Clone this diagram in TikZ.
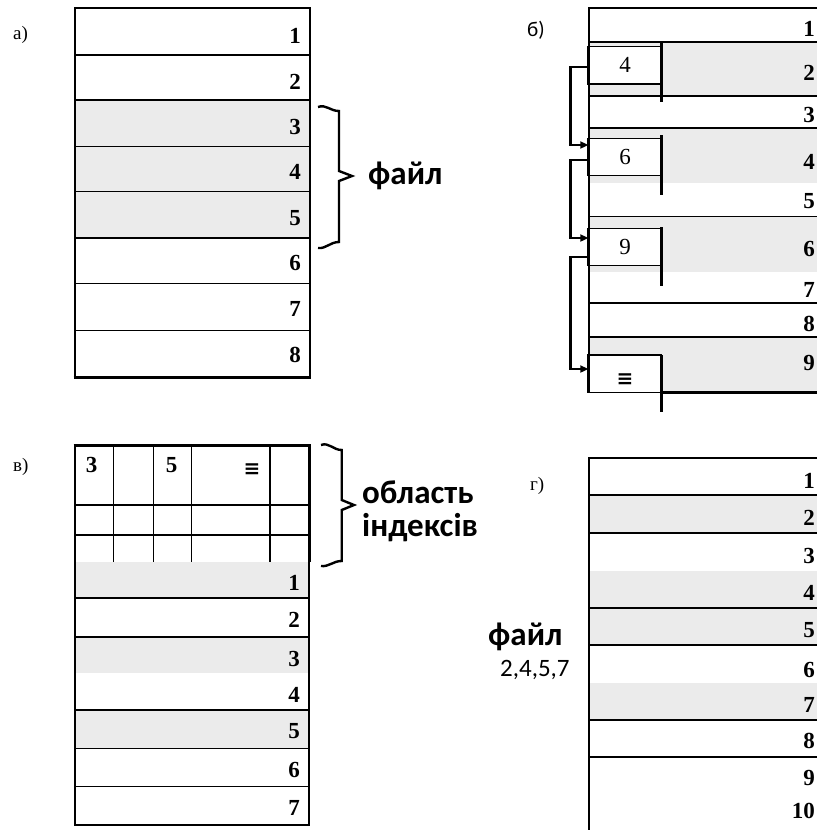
\documentclass[tikz,border=0pt]{standalone}
\usepackage{fontspec}
\setmainfont{Liberation Serif}
\newfontfamily\calib{Carlito}
\newfontfamily\dejavu{DejaVu Sans}
\usetikzlibrary{arrows.meta}
\definecolor{shadegray}{HTML}{EBEBEB}
\tikzset{
  thinl/.style={line width=1.4pt},
  thickl/.style={line width=3pt},
  shaded/.style={fill=shadegray},
  num/.style={anchor=east, inner sep=0pt, font=\fontsize{23}{23}\selectfont\bfseries},
  cellnum/.style={inner sep=0pt, font=\fontsize{23}{23}\selectfont\bfseries},
  eqsign/.style={inner sep=0pt, font=\dejavu\bfseries\fontsize{20}{20}\selectfont},
  panel/.style={anchor=west, inner sep=0pt, font=\fontsize{19}{19}\selectfont},
  caption/.style={anchor=west, inner sep=0pt, font=\calib\bfseries\fontsize{33}{33}\selectfont},
  smallbox/.style={draw, fill=white, line width=1.4pt, minimum width=72pt, minimum height=37.5pt, inner sep=0pt, font=\fontsize{23}{23}\selectfont},
  conn/.style={line width=2.6pt, -{Triangle[length=8pt,width=7pt]}},
  bracel/.style={line width=2.4pt, line join=miter},
}
\begin{document}
\begin{tikzpicture}[x=1pt,y=-1pt]
\useasboundingbox (0,0) rectangle (817,830);

% ---------- panel a ----------
\node[panel] (la) at (13,35) {а)};
\fill[shaded] (75,100) rectangle (310,238);
\foreach \y in {55,100,146.5,191.7,238,283.5,330.5} \draw[thinl] (75,\y) -- (310,\y);
\draw[thinl] (75,377) -- (75,8) -- (310,8) -- (310,377);
\draw[thickl] (73.6,377) -- (311.4,377);
\foreach \n/\y in {1/36,2/82,3/127,4/172,5/218,6/263,7/309,8/355}
  \node[num] (a\n) at (301,\y) {\n};
\draw[bracel] (318,107) .. controls (326,104) and (330,111) .. (339,111) -- (339,171) -- (352,176) -- (339,181) -- (339,242) .. controls (330,242) and (326,249) .. (318,248);
\node[caption] (fa) at (368,176) {файл};

% ---------- panel b ----------
\node[panel, font=\calib\fontsize{21}{21}\selectfont] (lb) at (527,30) {б)};
\fill[shaded] (589,42) rectangle (817,96);
\fill[shaded] (589,128) rectangle (817,183);
\fill[shaded] (589,216.5) rectangle (817,271.5);
\fill[shaded] (589,337) rectangle (817,392.5);
\foreach \y in {42,96,128,216.5,303,337} \draw[thinl] (589,\y) -- (817,\y);
\draw[thinl] (817,8) -- (589,8) -- (589,392.5) -- (661,392.5);
\draw[thickl] (661,392.5) -- (817,392.5);
\foreach \n/\y in {1/29,2/72.5,3/115,4/161.5,5/201.5,6/248.5,7/290,8/324,9/362.5}
  \node[num] (bn\n) at (815,\y) {\n};
\node[smallbox] (b4) at (625,65.25) {4};
\node[smallbox] (b6) at (625,157) {6};
\node[smallbox] (b9) at (625,247) {9};
\node[smallbox] (be) at (625,373.75) {};
\node[eqsign] (eqb) at (625,380) {≡};
\foreach \b in {b4,b6,b9,be} \draw[thickl] (\b.north west) -- (\b.south west);
\draw[thickl] (661,42) -- (661,102);
\draw[thickl] (661,135) -- (661,195);
\draw[thickl] (661,227) -- (661,286);
\draw[thickl] (661,355) -- (661,412);
\draw[conn] ([yshift=-1.75pt]b4.west) -- ++(-18,0) |- ([yshift=12pt]b6.west);
\draw[conn] ([yshift=-3pt]b6.west) -- ++(-18,0) |- ([yshift=9pt]b9.west);
\draw[conn] ([yshift=-10pt]b9.west) -- ++(-18,0) |- ([yshift=4.75pt]be.west);

% ---------- panel v ----------
\node[panel] (lv) at (13,467) {в)};
\fill[shaded] (75,562) rectangle (309,598);
\fill[shaded] (75,637) rectangle (309,673);
\fill[shaded] (75,710) rectangle (309,748.5);
\foreach \y in {505,535} \draw[thinl] (75,\y) -- (309,\y);
\foreach \x in {113.3,153.3,191.7,270} \draw[thinl] (\x,445) -- (\x,562);
\draw[thinl] (75,445) -- (75,825) -- (309,825) -- (309,562);
\foreach \y in {598,637,710,748.5,786.5} \draw[thinl] (75,\y) -- (309,\y);
\draw[thickl] (73.6,445) -- (309,445) -- (309,562);
\foreach \n/\y in {1/583,2/620,3/658.5,4/695,5/731.5,6/770,7/807.5}
  \node[num] (v\n) at (300,\y) {\n};
\node[cellnum] (c3) at (91.5,465) {3};
\node[cellnum] (c5) at (171.7,465) {5};
\node[eqsign] (ce) at (252,470) {≡};
\draw[bracel] (321,445) .. controls (329,442) and (333,450) .. (341.7,450) -- (341.7,500) -- (354,505) -- (341.7,510) -- (341.7,561) .. controls (333,561) and (329,567) .. (321,566);
\node[caption] (obl) at (362,492) {область};
\node[caption] (ind) at (362,528) {індексів};

% ---------- panel g ----------
\node[panel] (lg) at (530,486) {г)};
\fill[shaded] (589,495) rectangle (817,533);
\fill[shaded] (589,571) rectangle (817,645);
\fill[shaded] (589,683) rectangle (817,720);
\foreach \y in {495,533,608,645,720,757} \draw[thinl] (589,\y) -- (817,\y);
\draw[thinl] (817,458) -- (589,458) -- (589,830);
\foreach \n/\y in {1/481,2/517.5,3/555.5,4/592.5,5/630.5,6/669.5,7/704.5,8/740.5,9/777.5,10/811}
  \node[num] (g\n) at (815,\y) {\n};
\node[caption] (fg) at (488,637) {файл};
\node[anchor=west, inner sep=0pt, font=\calib\fontsize{25}{25}\selectfont] (lst) at (500,670) {2,4,5,7};
\end{tikzpicture}
\end{document}
